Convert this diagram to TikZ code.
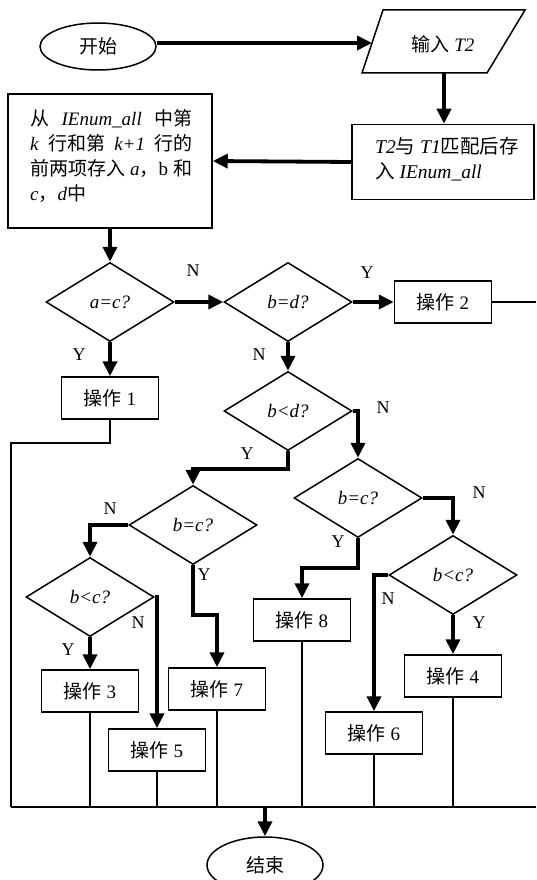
\documentclass[tikz,border=0pt]{standalone}
\usepackage{fontspec}
\setmainfont{Liberation Serif}
\newfontfamily\cjk{Noto Sans CJK SC}
\usetikzlibrary{arrows.meta,shapes.geometric}
\newcommand{\zh}[1]{{\cjk #1}}
\begin{document}
\begin{tikzpicture}[x=1pt,y=-1pt,
  font=\fontsize{18}{22}\selectfont,
  shp/.style={draw,line width=1.5pt},
  opbox/.style={shp,rectangle,minimum width=97pt,minimum height=42pt,inner sep=0pt,font=\fontsize{19}{22}\selectfont},
  dia/.style={shp,diamond,minimum width=128pt,minimum height=79pt,inner sep=0pt,font=\fontsize{19}{22}\selectfont\itshape},
  term/.style={shp,ellipse,minimum width=116pt,minimum height=47pt,inner sep=0pt,font=\fontsize{19}{22}\selectfont},
  flow/.style={line width=3.8pt,-{Triangle[length=15pt,width=14pt]}},
  conn/.style={line width=1.5pt},
  lbl/.style={inner sep=0pt}
]
\useasboundingbox (0,0) rectangle (536,880);

% start and input
\node[term] (start) at (98,46.5) {\zh{开始}};
\draw[shp] (383,10) -- (525,10) -- (487,73) -- (362,73) -- cycle;
\node[inner sep=0pt,font=\fontsize{19}{22}\selectfont] (inp) at (443,44) {\zh{输入} \textit{T2}};
\coordinate (inL) at (372,43);
\coordinate (inB) at (444,73);

% match box
\node[shp,rectangle,minimum width=182pt,minimum height=75pt,inner sep=0pt] (match) at (443,162) {};
\node[inner sep=0pt,anchor=west,align=left,font=\fontsize{19.5}{25}\selectfont] (matchtxt) at (375,159.5)
  {\textit{T2}\zh{与} \textit{T1}\zh{匹配后存}\\\zh{入} \textit{IEnum\_all}};

% load box
\node[shp,rectangle,minimum width=204pt,minimum height=134pt,inner sep=0pt] (load) at (110,161) {};
\node[inner sep=0pt,anchor=west,align=left,font=\fontsize{19}{25}\selectfont] (loadtxt) at (30,155.5)
  {\makebox[162pt][s]{\zh{从} \textit{IEnum\_all} \zh{中第}}\\
   \makebox[162pt][s]{\textit{k} \zh{行和第} \textit{k+1} \zh{行的}}\\
   \makebox[162pt][s]{\zh{前两项存入} \textit{a}\zh{，}b \zh{和}}\\
   \textit{c}\zh{，}\textit{d}\zh{中}};

% decisions
\node[dia] (dac)  at (110,302) {a=c?};
\node[dia] (dbd)  at (288,302) {b=d?};
\node[dia] (dbld) at (288,411) {b<d?};
\node[dia] (dbcL) at (193,525) {b=c?};
\node[dia] (dblcL) at (90,597) {b<c?};
\node[dia] (dbcR) at (358,498) {b=c?};
\node[dia] (dblcR) at (453,575) {b<c?};

% operations
\node[opbox] (op1) at (110,398) {\zh{操作} 1};
\node[opbox] (op2) at (443,302) {\zh{操作} 2};
\node[opbox] (op3) at (90,691) {\zh{操作} 3};
\node[opbox] (op4) at (453,676) {\zh{操作} 4};
\node[opbox] (op5) at (157,750) {\zh{操作} 5};
\node[opbox] (op6) at (374,733) {\zh{操作} 6};
\node[opbox] (op7) at (217,689) {\zh{操作} 7};
\node[opbox] (op8) at (302,620) {\zh{操作} 8};

% end
\node[term,minimum height=56pt] (fin) at (265,865) {\zh{结束}};

% coordinates
\coordinate (botL) at (11,807);
\coordinate (botR) at (536,807);
\coordinate (bj) at (265,807);
\coordinate (rEdge) at (536,302);

% thick flow arrows
\draw[flow] (start.east |- inL) -- (inL);
\draw[flow] (inB) -- (inB |- match.north);
\draw[flow] (match.west) -- (load.east);
\draw[flow] (load.south) -- (dac.north);
\draw[flow] (dac.east) -- (dbd.west);
\draw[flow] (dbd.east) -- (op2.west);
\draw[flow] (dac.south) -- (op1.north);
\draw[flow] (dbd.south) -- (dbld.north);
\draw[flow] (dbld.east) -| (dbcR.north);
\draw[flow] (dbld.south) -- ++(0,18) -| (dbcL.north);
\draw[flow] (dbcL.west) -| (dblcL.north);
\draw[flow] (dbcL.south) -- ++(0,50) -| (op7.north);
\draw[flow] (dblcL.east) -| (op5.north);
\draw[flow] (dblcL.south) -- (op3.north);
\draw[flow] (dbcR.east) -| (dblcR.north);
\draw[flow] (dbcR.south) -- ++(0,30) -| (op8.north);
\draw[flow] (dblcR.west) -| (op6.north);
\draw[flow] (dblcR.south) -- (op4.north);
\draw[flow] (bj) -- (fin.north);

% thin connectors
\draw[conn] (op2.east) -- (rEdge);
\draw[conn] (op1.south) |- (11,443) -- (botL);
\draw[conn] (botL) -- (botR);
\draw[conn] (op3.south) -- (op3.south |- botL);
\draw[conn] (op5.south) -- (op5.south |- botL);
\draw[conn] (op7.south) -- (op7.south |- botL);
\draw[conn] (op8.south) -- (op8.south |- botL);
\draw[conn] (op6.south) -- (op6.south |- botL);
\draw[conn] (op4.south) -- (op4.south |- botL);

% branch labels
\node[lbl] (n1) at (193,271) {N};
\node[lbl] (y1) at (367,273) {Y};
\node[lbl] (y2) at (79,355) {Y};
\node[lbl] (n2) at (259,355) {N};
\node[lbl] (n3) at (383,408) {N};
\node[lbl] (y3) at (247,454) {Y};
\node[lbl] (n4) at (110,509) {N};
\node[lbl] (y4) at (204,575) {Y};
\node[lbl] (n5) at (479,493) {N};
\node[lbl] (y5) at (338,542) {Y};
\node[lbl] (n6) at (138,623) {N};
\node[lbl] (y6) at (68,650) {Y};
\node[lbl] (n7) at (388,599) {N};
\node[lbl] (y7) at (479,623) {Y};
\end{tikzpicture}
\end{document}
